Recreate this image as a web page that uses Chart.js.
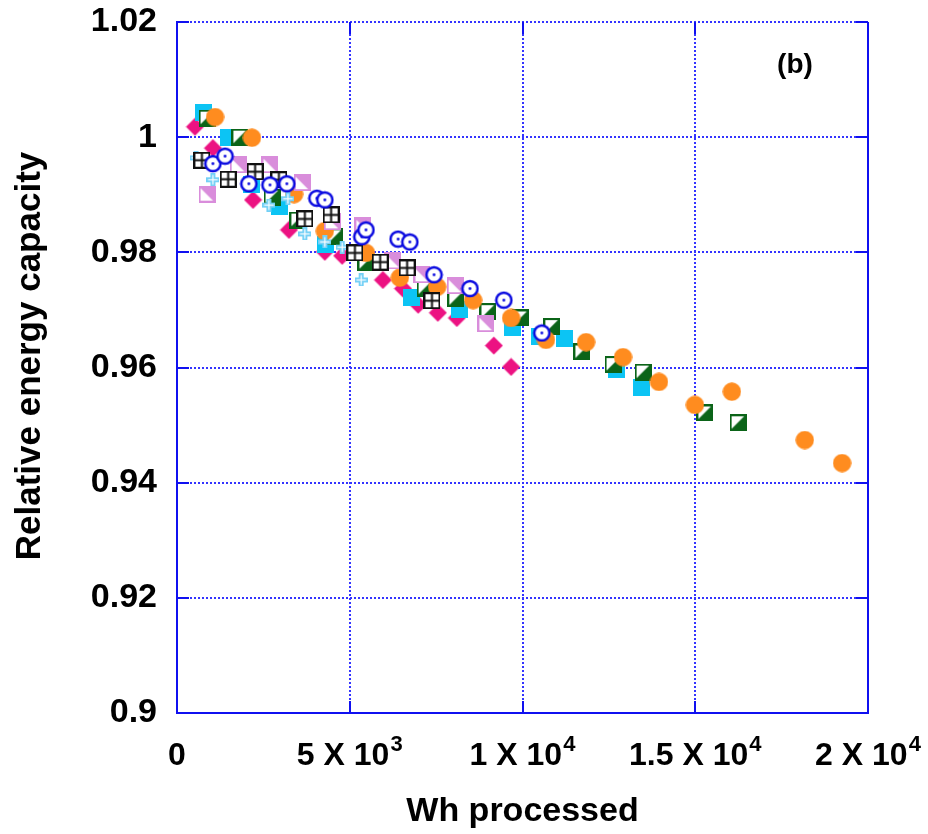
<!DOCTYPE html>
<html>
<head>
<meta charset="utf-8">
<script src="https://cdn.jsdelivr.net/npm/chart.js@4.4.1/dist/chart.umd.min.js"></script>
<style>
  body { margin: 0; background: #fff; }
  canvas { display: block; }
</style>
</head>
<body>
<canvas id="chart" width="928" height="834"></canvas>
<script>
// Wh processed (x) and relative energy capacity (y), one pair of arrays per cell
const wh_pink = [520, 1040, 2200, 3240, 4280, 4780, 5960, 6540, 6980, 7550, 8100, 9170, 9670];
const cap_pink = [1.0018, 0.9981, 0.9891, 0.9839, 0.9801, 0.9794, 0.9752, 0.9737, 0.9709, 0.9695, 0.9686, 0.9638, 0.9601];

const wh_cyan = [780, 1480, 2170, 2980, 4310, 5880, 6800, 8190, 9720, 10500, 11230, 12730, 13430];
const cap_cyan = [1.0042, 0.9999, 0.9917, 0.9879, 0.9813, 0.9782, 0.9721, 0.9700, 0.9669, 0.9653, 0.9651, 0.9596, 0.9565];

const wh_green = [870, 1820, 2750, 3500, 4570, 5470, 7180, 8070, 9000, 9950, 10850, 11720, 12620, 13490, 15280, 16240];
const cap_green = [1.0033, 1.0000, 0.9896, 0.9856, 0.9827, 0.9782, 0.9738, 0.9719, 0.9697, 0.9686, 0.9671, 0.9627, 0.9605, 0.9592, 0.9521, 0.9504];

const wh_orange = [1100, 2170, 3390, 4280, 5470, 6450, 7530, 8570, 9670, 10680, 11840, 12910, 13950, 14990, 16060, 18170, 19250];
const cap_orange = [1.0035, 0.9999, 0.9901, 0.9837, 0.9799, 0.9756, 0.9740, 0.9717, 0.9686, 0.9648, 0.9644, 0.9618, 0.9575, 0.9535, 0.9558, 0.9474, 0.9434];

const wh_blue = [1040, 1390, 2080, 2690, 3180, 4050, 4280, 5350, 5470, 6400, 6740, 7440, 8480, 9460, 10560];
const cap_blue = [0.9954, 0.9967, 0.9919, 0.9917, 0.9919, 0.9894, 0.9891, 0.9827, 0.9839, 0.9823, 0.9818, 0.9761, 0.9737, 0.9717, 0.9660];

const wh_black = [720, 1480, 2260, 2950, 3700, 4460, 5150, 5880, 6660, 7380];
const cap_black = [0.9960, 0.9927, 0.9940, 0.9926, 0.9858, 0.9865, 0.9799, 0.9783, 0.9773, 0.9716];

const wh_plum = [870, 1770, 2690, 3620, 4490, 5380, 6250, 7090, 8050, 8940];
const cap_plum = [0.9901, 0.9952, 0.9952, 0.9921, 0.9853, 0.9846, 0.9785, 0.9761, 0.9742, 0.9676];

const wh_plus = [550, 1040, 2660, 3210, 3700, 4280, 4780, 5330];
const cap_plus = [0.9964, 0.9926, 0.9882, 0.9893, 0.9832, 0.9818, 0.9809, 0.9752];

// tick labels
const x_ticks = [0, 5000, 10000, 15000, 20000];
const x_tick_main = ['0', '5 X 10', '1 X 10', '1.5 X 10', '2 X 10'];
const x_tick_exp = ['', '3', '4', '4', '4'];

const AXIS_BLUE = '#1010f0';
const GRID_BLUE = '#3434ff';
const FONT = "'Liberation Sans', Arial, sans-serif";

function make_marker(size, draw) {
    const c = document.createElement('canvas');
    c.width = size;
    c.height = size;
    draw(c.getContext('2d'), size);
    return c;
}

const diamond = make_marker(19, g => {
    g.fillStyle = '#ec1282';
    g.beginPath();
    g.moveTo(9.5, 0.5); g.lineTo(18.5, 9.5); g.lineTo(9.5, 18.5); g.lineTo(0.5, 9.5);
    g.closePath();
    g.fill();
});
const cyan_square = make_marker(17, g => {
    g.fillStyle = '#0cc4f4';
    g.fillRect(0, 0, 17, 17);
});
const green_half = make_marker(17, g => {
    g.fillStyle = '#0b6418';
    g.fillRect(0, 0, 17, 17);
    g.fillStyle = '#fff';
    g.beginPath();
    g.moveTo(2, 2); g.lineTo(14.5, 2); g.lineTo(2, 14.5);
    g.closePath();
    g.fill();
});
const orange_dot = make_marker(19, g => {
    g.fillStyle = '#ff8c1f';
    g.beginPath();
    g.arc(9.5, 9.5, 9.2, 0, Math.PI * 2);
    g.fill();
});
const blue_ring = make_marker(19, g => {
    g.fillStyle = '#fff';
    g.strokeStyle = '#0a0ae0';
    g.lineWidth = 2.5;
    g.beginPath();
    g.arc(9.5, 9.5, 7.6, 0, Math.PI * 2);
    g.fill();
    g.stroke();
    g.fillStyle = '#0a0ae0';
    g.beginPath();
    g.arc(9.5, 9.5, 1.4, 0, Math.PI * 2);
    g.fill();
});
const black_grid = make_marker(17, g => {
    g.fillStyle = '#fff';
    g.fillRect(1, 1, 15, 15);
    g.strokeStyle = '#111';
    g.lineWidth = 2;
    g.strokeRect(1, 1, 15, 15);
    g.beginPath();
    g.moveTo(8.5, 1); g.lineTo(8.5, 16);
    g.moveTo(1, 8.5); g.lineTo(16, 8.5);
    g.stroke();
});
const plum_half = make_marker(17, g => {
    g.fillStyle = '#d98ddb';
    g.fillRect(0, 0, 17, 17);
    g.fillStyle = '#fff';
    g.beginPath();
    g.moveTo(2, 2.5); g.lineTo(2, 15); g.lineTo(14.5, 15);
    g.closePath();
    g.fill();
});
const light_plus = make_marker(13, g => {
    g.fillStyle = '#72d0f6';
    g.fillRect(4, 0, 5, 13);
    g.fillRect(0, 4, 13, 5);
    g.fillStyle = '#fff';
    g.fillRect(5.9, 1.6, 1.2, 9.8);
    g.fillRect(1.6, 5.9, 9.8, 1.2);
});

function pairs(xs, ys) {
    return xs.map((x, i) => ({x: x, y: ys[i]}));
}

// lower order is drawn on top
const series = [
    {xs: wh_blue, ys: cap_blue, style: blue_ring, order: 0},
    {xs: wh_black, ys: cap_black, style: black_grid, order: 1},
    {xs: wh_plus, ys: cap_plus, style: light_plus, order: 2},
    {xs: wh_plum, ys: cap_plum, style: plum_half, order: 3},
    {xs: wh_orange, ys: cap_orange, style: orange_dot, order: 4},
    {xs: wh_green, ys: cap_green, style: green_half, order: 5},
    {xs: wh_cyan, ys: cap_cyan, style: cyan_square, order: 6},
    {xs: wh_pink, ys: cap_pink, style: diamond, order: 7}
];

const frame_plugin = {
    id: 'frame',
    afterDraw(chart) {
        const ctx = chart.ctx;
        const a = chart.chartArea;
        const xs = chart.scales.x;
        const ys = chart.scales.y;
        ctx.save();
        // right border
        ctx.strokeStyle = AXIS_BLUE;
        ctx.lineWidth = 2;
        ctx.beginPath();
        ctx.moveTo(a.right, a.top);
        ctx.lineTo(a.right, a.bottom + 1);
        ctx.stroke();
        // inward tick marks
        ctx.beginPath();
        ys.ticks.forEach(t => {
            const py = Math.round(ys.getPixelForValue(t.value));
            ctx.moveTo(a.left, py); ctx.lineTo(a.left + 12, py);
            ctx.moveTo(a.right, py); ctx.lineTo(a.right - 12, py);
        });
        x_ticks.forEach(v => {
            const px = Math.round(xs.getPixelForValue(v));
            ctx.moveTo(px, a.bottom); ctx.lineTo(px, a.bottom - 12);
            ctx.moveTo(px, a.top); ctx.lineTo(px, a.top + 12);
        });
        ctx.stroke();

        // x tick labels with exponents
        ctx.fillStyle = '#000';
        ctx.textBaseline = 'alphabetic';
        ctx.textAlign = 'left';
        x_ticks.forEach((v, i) => {
            const px = xs.getPixelForValue(v);
            ctx.font = 'bold 32px ' + FONT;
            const w1 = ctx.measureText(x_tick_main[i]).width;
            ctx.font = 'bold 22px ' + FONT;
            const w2 = x_tick_exp[i] ? ctx.measureText(x_tick_exp[i]).width + 1 : 0;
            const x0 = px - (w1 + w2) / 2;
            ctx.font = 'bold 32px ' + FONT;
            ctx.fillText(x_tick_main[i], x0, 765);
            if (x_tick_exp[i]) {
                ctx.font = 'bold 22px ' + FONT;
                ctx.fillText(x_tick_exp[i], x0 + w1 + 1, 751);
            }
        });

        // axis titles
        ctx.textAlign = 'center';
        ctx.textBaseline = 'middle';
        ctx.font = 'bold 34px ' + FONT;
        ctx.fillText('Wh processed', (a.left + a.right) / 2, 812);
        ctx.save();
        ctx.translate(30, 356);
        ctx.rotate(-Math.PI / 2);
        ctx.font = 'bold 35px ' + FONT;
        ctx.fillText('Relative energy capacity', 0, 0);
        ctx.restore();

        ctx.font = 'bold 28px ' + FONT;
        ctx.fillText('(b)', 795, 65);
        ctx.restore();
    }
};

new Chart(document.getElementById('chart'), {
    type: 'scatter',
    data: {
        datasets: series.map(s => ({
            data: pairs(s.xs, s.ys),
            pointStyle: s.style,
            pointRadius: 8,
            order: s.order
        }))
    },
    options: {
        responsive: false,
        animation: false,
        layout: {padding: {top: 22, right: 60, left: 0, bottom: 0}},
        plugins: {legend: {display: false}, tooltip: {enabled: false}},
        scales: {
            x: {
                type: 'linear',
                min: 0,
                max: 20000,
                ticks: {stepSize: 5000, display: false},
                grid: {color: GRID_BLUE, lineWidth: 2, drawTicks: false},
                border: {color: AXIS_BLUE, width: 2, dash: [2, 2]},
                afterFit: s => { s.height = 121; s.paddingLeft = 0; s.paddingRight = 0; }
            },
            y: {
                min: 0.9,
                max: 1.02,
                ticks: {
                    stepSize: 0.02,
                    color: '#000',
                    padding: 20,
                    font: {family: FONT, size: 34, weight: 'bold'},
                    callback: v => String(Number(v.toFixed(2)))
                },
                grid: {color: GRID_BLUE, lineWidth: 2, drawTicks: false},
                border: {color: AXIS_BLUE, width: 2, dash: [2, 2]},
                afterFit: s => { s.width = 177; s.paddingTop = 0; s.paddingBottom = 0; }
            }
        }
    },
    plugins: [frame_plugin]
});
</script>
</body>
</html>
